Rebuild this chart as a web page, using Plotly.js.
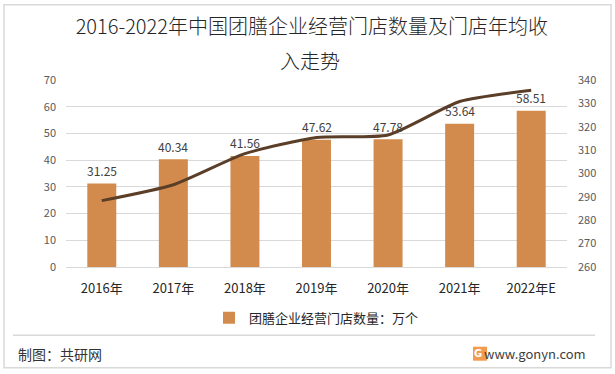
<!DOCTYPE html>
<html>
<head>
<meta charset="utf-8">
<script src="https://cdn.plot.ly/plotly-3.0.1.min.js"></script>
<style>
html,body{margin:0;padding:0;background:#fff;}
#chart{width:615px;height:374px;}
</style>
</head>
<body>
<div id="chart"></div>
<script>
// ---- data ----
var years = ["2016年", "2017年", "2018年", "2019年", "2020年", "2021年", "2022年E"];
var storeCounts = [31.25, 40.34, 41.56, 47.62, 47.78, 53.64, 58.51];      // 万个
var avgRevenue = [288.4, 295.2, 308.5, 315.4, 316.5, 330.8, 335.6];       // 门店年均收入 (right axis)
var titleLine1 = "2016-2022年中国团膳企业经营门店数量及门店年均收";
var titleLine2 = "入走势";
var barName = "团膳企业经营门店数量：万个";
var lineName = "门店年均收入";

var FONT = "'Noto Sans CJK SC', 'Noto Sans', sans-serif";

var traces = [
  {
    type: "bar",
    x: years,
    y: storeCounts,
    name: barName,
    marker: {color: "#D38B4D"},
    width: 0.405,
    hoverinfo: "x+y"
  },
  {
    type: "scatter",
    mode: "lines",
    x: years,
    y: avgRevenue,
    name: lineName,
    yaxis: "y2",
    showlegend: false,
    line: {color: "#5B3E27", width: 3, shape: "spline", smoothing: 0.6}
  }
];

var annotations = [];
for (var i = 0; i < years.length; i++) {
  annotations.push({
    x: years[i], y: storeCounts[i], xref: "x", yref: "y",
    text: storeCounts[i].toFixed(2),
    showarrow: false, yanchor: "middle", yshift: 13,
    font: {family: FONT, size: 12, color: "#404040"}
  });
}
annotations.push({
  xref: "paper", yref: "paper", x: 0.487, y: 1.104,
  xanchor: "center", yanchor: "middle",
  text: titleLine2, showarrow: false,
  font: {family: FONT, size: 20, color: "#262626", weight: 300}
});
annotations.push({
  xref: "paper", yref: "paper", x: -0.1, y: -0.465,
  xanchor: "left", yanchor: "middle",
  text: "制图：共研网", showarrow: false,
  font: {family: FONT, size: 14, color: "#333333"}
});
annotations.push({
  xref: "paper", yref: "paper", x: 1.042, y: -0.465,
  xanchor: "right", yanchor: "middle",
  text: "www.gonyn.com", showarrow: false,
  font: {family: FONT, size: 13, color: "#404040"}
});
annotations.push({
  xref: "paper", yref: "paper", x: 0.8226, y: -0.465,
  xanchor: "center", yanchor: "middle",
  text: "<b>G</b>", showarrow: false,
  font: {family: "DejaVu Sans", size: 10, color: "#ffffff"}
});

var shapes = [
  // outer frame
  {type: "rect", xref: "paper", yref: "paper",
   x0: (4 - 66) / 501, x1: (611 - 66) / 501,
   y0: (267.3 - 368) / 187, y1: (267.3 - 5) / 187,
   line: {color: "#d9d9d9", width: 1.5}, fillcolor: "rgba(0,0,0,0)", layer: "below"},
  // separator
  {type: "line", xref: "paper", yref: "paper",
   x0: (13 - 66) / 501, x1: (595 - 66) / 501,
   y0: (267.3 - 335.5) / 187, y1: (267.3 - 335.5) / 187,
   line: {color: "#d9d9d9", width: 1.5}},
  // logo square
  {type: "rect", xref: "paper", yref: "paper",
   x0: (473 - 66) / 501, x1: (487 - 66) / 501,
   y0: (267.3 - 361) / 187, y1: (267.3 - 347) / 187,
   line: {width: 0}, fillcolor: "#F29B4C"}
];

var layout = {
  width: 615, height: 374,
  margin: {l: 66, r: 48, t: 80, b: 107, pad: 0},
  paper_bgcolor: "#ffffff", plot_bgcolor: "#ffffff",
  font: {family: FONT, color: "#404040"},
  title: {
    text: titleLine1,
    x: 0.507, xanchor: "center", xref: "container",
    y: 1 - 26.7 / 374, yanchor: "middle", yref: "container",
    font: {family: FONT, size: 20, color: "#262626", weight: 300}
  },
  bargap: 0.6,
  xaxis: {
    type: "category",
    showgrid: false, zeroline: false,
    showline: true, linecolor: "#d9d9d9", linewidth: 1,
    ticks: "", ticklabelstandoff: 9,
    tickfont: {family: FONT, size: 13, color: "#262626"},
    fixedrange: true
  },
  yaxis: {
    range: [0, 70], dtick: 10, tick0: 0,
    showgrid: true, gridcolor: "#d9d9d9", gridwidth: 1,
    zeroline: false, showline: false, ticks: "",
    ticklabelstandoff: 9,
    tickfont: {family: FONT, size: 11, color: "#595959"},
    fixedrange: true
  },
  yaxis2: {
    range: [260, 340], dtick: 10, tick0: 260,
    overlaying: "y", side: "right",
    showgrid: false, zeroline: false, showline: false, ticks: "",
    ticklabelstandoff: 10,
    tickfont: {family: FONT, size: 11, color: "#595959"},
    fixedrange: true
  },
  showlegend: true,
  legend: {
    orientation: "h",
    x: 0.5, xanchor: "center",
    y: -0.272, yanchor: "middle",
    font: {family: FONT, size: 13, color: "#262626"},
    bgcolor: "rgba(0,0,0,0)"
  },
  annotations: annotations,
  shapes: shapes
};

Plotly.newPlot("chart", traces, layout, {displayModeBar: false, staticPlot: true});
</script>
</body>
</html>
